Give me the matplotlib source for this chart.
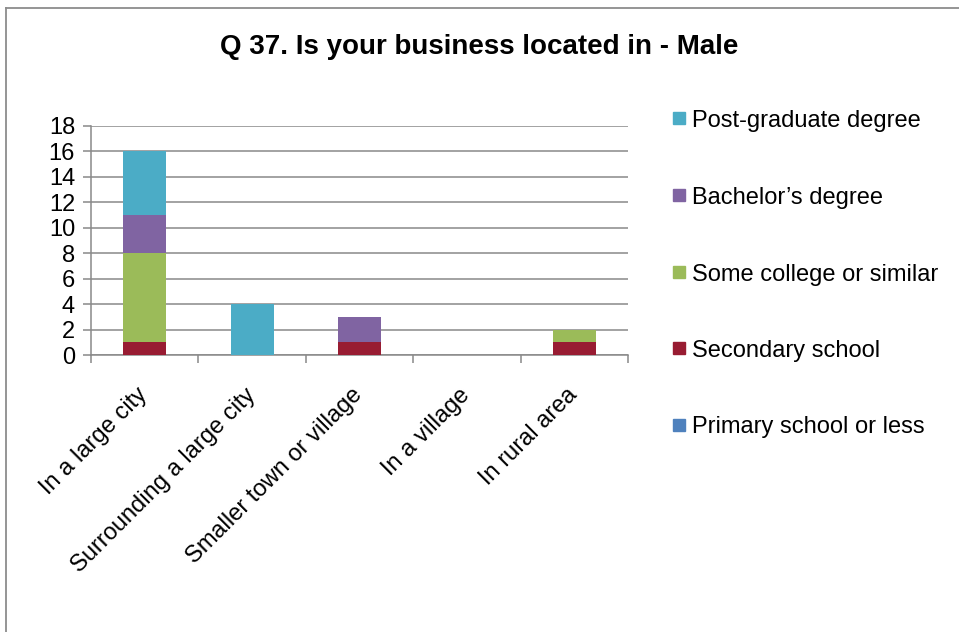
import matplotlib
matplotlib.use("Agg")
import matplotlib.pyplot as plt
from matplotlib.transforms import ScaledTranslation
from matplotlib.patches import Rectangle
from matplotlib.lines import Line2D
import numpy as np

plt.rcParams['font.family'] = ['Liberation Sans', 'DejaVu Sans']

# Location categories and respondent counts by education level
categories = ["In a large city", "Surrounding a large city", "Smaller town or village",
              "In a village", "In rural area"]
primary = [0, 0, 0, 0, 0]
secondary = [1, 0, 1, 0, 1]
some_college = [7, 0, 0, 0, 1]
bachelor = [3, 0, 2, 0, 0]
postgrad = [5, 4, 0, 0, 0]

series = [
    ("Primary school or less", primary, "#4F81BD"),
    ("Secondary school", secondary, "#981C32"),
    ("Some college or similar", some_college, "#9BBB59"),
    ("Bachelor\u2019s degree", bachelor, "#8064A2"),
    ("Post-graduate degree", postgrad, "#4BACC6"),
]
y_ticks = [0, 2, 4, 6, 8, 10, 12, 14, 16, 18]

W, H = 959, 632
fig = plt.figure(figsize=(W / 100, H / 100), dpi=100)
ax = fig.add_axes([91 / W, 1 - 355 / H, 537 / W, 229 / H])

grid_c = "#898989"
x = np.arange(len(categories)) + 0.5
bottom = np.zeros(len(categories))
for name, vals, col in series:
    vals = np.array(vals, dtype=float)
    ax.bar(x, vals, width=0.4, bottom=bottom, color=col, edgecolor="none", zorder=3)
    bottom += vals

ax.set_xlim(0, len(categories))
ax.set_ylim(0, 18)
ax.set_yticks(y_ticks)
ax.set_yticklabels([str(v) for v in y_ticks], fontsize=17)
ax.yaxis.grid(True, color=grid_c, linewidth=1.1, zorder=0)
ax.set_axisbelow(True)

ax.set_xticks(np.arange(len(categories) + 1))
ax.set_xticklabels([])
ax.tick_params(axis="x", length=5.5, width=1.1, color=grid_c, direction="out")
ax.tick_params(axis="y", length=6, width=1.1, color=grid_c, direction="out", pad=5.5)

for s in ["top", "right"]:
    ax.spines[s].set_visible(False)
for s in ["left", "bottom"]:
    ax.spines[s].set_color(grid_c)
    ax.spines[s].set_linewidth(1.1)

# Rotated category labels
for xi, lab in zip(x, categories):
    tr = ax.get_xaxis_transform() + ScaledTranslation(-0.08, -0.29, fig.dpi_scale_trans)
    ax.text(xi, 0, lab, transform=tr, rotation=45, rotation_mode="anchor",
            ha="right", va="top", fontsize=17)

# Title
fig.text(0.5, 1 - 47 / H, "Q 37. Is your business located in - Male",
         ha="center", va="center", fontsize=20, fontweight="bold")

# Legend
leg_y = [118, 195, 272, 348, 425]
for (name, vals, col), yc in zip(reversed(series), leg_y):
    fig.patches.append(Rectangle((673 / W, 1 - (yc + 6) / H), 12 / W, 12 / H,
                                 transform=fig.transFigure, color=col, figure=fig))
    fig.text(692 / W, 1 - (yc + 8.5) / H, name, ha="left", va="baseline", fontsize=17)

# Chart frame
fig.lines.append(Line2D([6 / W, 1.0], [1 - 8 / H, 1 - 8 / H], transform=fig.transFigure,
                        color="#8C8C8C", linewidth=1.3, figure=fig))
fig.lines.append(Line2D([6 / W, 6 / W], [1 - 8 / H, 0], transform=fig.transFigure,
                        color="#8C8C8C", linewidth=1.3, figure=fig))

fig.savefig("out.png", dpi=100)
